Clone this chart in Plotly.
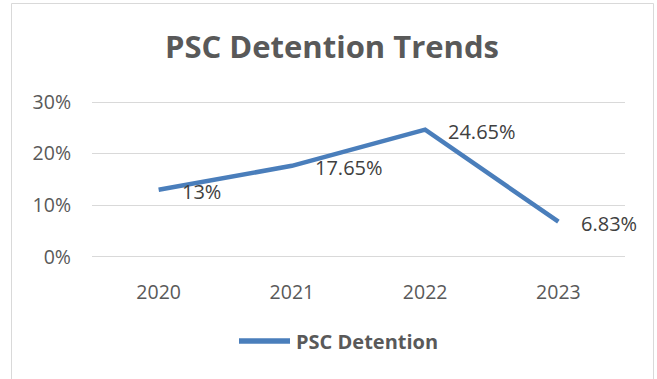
import plotly.graph_objects as go

# Yearly PSC detention rates (%)
years = ["2020", "2021", "2022", "2023"]
detention_pct = [13, 17.65, 24.65, 6.83]
y_ticks = [0, 10, 20, 30]
y_tick_labels = ["0%", "10%", "20%", "30%"]
series_name = "PSC Detention"
title_text = "PSC Detention Trends"

W, H = 657, 379
ML, MR, MT, MB = 92, 32, 100, 120
PW, PH = W - ML - MR, H - MT - MB
# pad the value range a little so the 0% and 30% grid lines stay visible
Y_PAD = 0.39

LINE = "#4a7ebb"
GRID = "#d9d9d9"
TXT = "#595959"
LBL = "#404040"
FONT = "Open Sans"


def px_x(p):
    return (p - ML) / PW


def px_y(p):
    return (H - MB - p) / PH


fig = go.Figure()
fig.add_trace(go.Scatter(
    x=years, y=detention_pct, mode="lines", name=series_name,
    line=dict(color=LINE, width=4.5), showlegend=False,
))

# value labels to the right of each point (category index on the x axis)
for i, v in enumerate(detention_pct):
    fig.add_annotation(
        x=i, y=v, xref="x", yref="y", text=f"{v:g}%", showarrow=False,
        xanchor="left", yanchor="middle", xshift=21, yshift=-2,
        font=dict(family=FONT, size=20, color=LBL),
    )

# outer chart border
fig.add_shape(
    type="rect", xref="paper", yref="paper",
    x0=px_x(11.5), x1=px_x(653.5), y0=px_y(385), y1=px_y(3.5),
    line=dict(color=GRID, width=1), fillcolor="rgba(0,0,0,0)", layer="below",
)

# legend: line sample plus bold series name
fig.add_shape(
    type="line", xref="paper", yref="paper",
    x0=px_x(239), x1=px_x(290), y0=px_y(341), y1=px_y(341),
    line=dict(color=LINE, width=5.5),
)
fig.add_annotation(
    xref="paper", yref="paper", x=px_x(294), y=px_y(341),
    xanchor="left", yanchor="middle", showarrow=False,
    text=f"<b>{series_name}</b>",
    font=dict(family=FONT, size=20, color=TXT),
)

fig.update_layout(
    width=W, height=H,
    margin=dict(l=ML, r=MR, t=MT, b=MB),
    paper_bgcolor="white", plot_bgcolor="white",
    title=dict(
        text=f"<b>{title_text}</b>", x=332 / W, xanchor="center",
        y=1 - 47 / H, yanchor="middle", yref="container",
        font=dict(family=FONT, size=31, color=TXT),
    ),
    xaxis=dict(
        type="category", range=[-0.5, 3.5], showgrid=False, zeroline=False,
        showline=False, ticks="", ticklabelstandoff=19,
        tickfont=dict(family=FONT, size=19.5, color=TXT),
    ),
    yaxis=dict(
        range=[-Y_PAD, 30 + Y_PAD], tickmode="array", tickvals=y_ticks,
        ticktext=y_tick_labels, showgrid=True,
        gridcolor=GRID, gridwidth=1, zeroline=False, showline=False,
        ticks="", ticklabelstandoff=20,
        tickfont=dict(family=FONT, size=19.5, color=TXT),
    ),
    showlegend=False,
)

fig.write_html("out.html")
